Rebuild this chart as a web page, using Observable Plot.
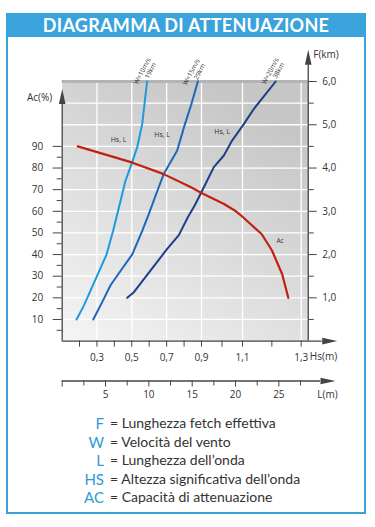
<!DOCTYPE html>
<html><head><meta charset="utf-8">
<script src="https://cdn.jsdelivr.net/npm/d3@7"></script>
<script src="https://cdn.jsdelivr.net/npm/@observablehq/plot@0.6"></script>
<style>
body{margin:0;background:#fff;width:375px;height:527px;position:relative;overflow:hidden;font-family:"Open Sans",sans-serif;}
#box{position:absolute;left:6px;top:13px;width:356px;height:497px;border:2px solid #3aa0da;}
#title{position:absolute;left:6px;top:13px;width:360px;height:24px;background:#3aa3db;color:#fff;font-family:Lato,sans-serif;font-weight:700;font-size:18px;text-align:center;line-height:25px;letter-spacing:0.3px;}
#main{position:absolute;left:0;top:40px;}
#laxis{position:absolute;left:0;top:372px;}
.row{position:absolute;left:0;width:375px;height:18.5px;line-height:18.5px;font-family:Lato,sans-serif;}
.k{position:absolute;right:271px;color:#2e9ad6;font-size:15px;}
.v{position:absolute;left:110px;color:#333;font-size:14px;}
</style></head>
<body>
<div id="box"></div>
<div id="title">DIAGRAMMA DI ATTENUAZIONE</div>
<div id="main"></div>
<div id="laxis"></div>
<div id="legend"></div>
<script>
// ---- data ----
const acHs  = [0.19, 0.35, 0.50, 0.68, 0.84, 0.90, 1.01, 1.06, 1.10, 1.165, 1.20, 1.235, 1.256];
const acPct = [90, 86.2, 82.6, 77.3, 71.1, 68.5, 63.4, 60.5, 57.5, 49.5, 42, 31, 20];

const w10Hs = [0.183, 0.225, 0.30, 0.355, 0.393, 0.43, 0.464, 0.502, 0.531, 0.56, 0.573, 0.588];
const w10F  = [0.5, 0.82, 1.5, 2.0, 2.55, 3.15, 3.71, 4.13, 4.48, 5.02, 5.48, 6.0];
const w15Hs = [0.279, 0.33, 0.378, 0.44, 0.502, 0.56, 0.598, 0.64, 0.684, 0.76, 0.80, 0.84, 0.879];
const w15F  = [0.5, 0.9, 1.29, 1.65, 2.0, 2.55, 2.94, 3.4, 3.87, 4.4, 4.95, 5.45, 6.0];
const w20Hs = [0.474, 0.512, 0.607, 0.703, 0.77, 0.82, 0.86, 0.898, 0.96, 1.009, 1.05, 1.105, 1.139, 1.213];
const w20F  = [1.0, 1.13, 1.63, 2.13, 2.45, 2.85, 3.13, 3.43, 4.02, 4.29, 4.64, 5.02, 5.37, 6.0];

const wNames  = ["W=10m/s", "W=15m/s", "W=20m/s"];
const wFetch  = ["19km", "29km", "38km"];
const wColors = ["#1d9ade", "#1b68b9", "#1c3f88"];

const acTicks   = [10, 20, 30, 40, 50, 60, 70, 80, 90];
const acMinor   = [5, 15, 25, 35, 45, 55, 65, 75, 85];
const fTicks    = [1, 2, 3, 4, 5, 6];
const fMinor    = [0.5, 1.5, 2.5, 3.5, 4.5, 5.5];
const hsTicks   = [0.2, 0.3, 0.4, 0.5, 0.6, 0.7, 0.8, 0.9, 1.0, 1.1, 1.2, 1.3];
const hsLabels  = [0.3, 0.5, 0.7, 0.9, 1.1, 1.3];
const lTicks    = [0, 5, 10, 15, 20, 25];
const lMinor    = [2.5, 7.5, 12.5, 17.5, 22.5, 27.5];
const gridAc    = [10, 20, 30, 40, 50, 60, 70, 80, 90, 100, 110];

const legendKeys  = ["F", "W", "L", "HS", "AC"];
const legendTexts = ["Lunghezza fetch effettiva", "Velocità del vento", "Lunghezza dell’onda", "Altezza significativa dell’onda", "Capacità di attenuazione"];

// ---- helpers ----
const comma = d => d.toFixed(1).replace(".", ",");
const zip = (xs, ys, key) => xs.map((x, i) => ({hs: x, v: ys[i], key}));
const arrowUp = {draw(c){ c.moveTo(-3.3,0); c.lineTo(0,-15); c.lineTo(3.3,0); c.closePath(); }};
const arrowRight = {draw(c){ c.moveTo(0,-3.3); c.lineTo(15,0); c.lineTo(0,3.3); c.closePath(); }};
const axisColor = "#444";
const hsLeft = 0.1, hsRight = 1.324;

const acData = zip(acHs, acPct, "Ac");
const wData = [zip(w10Hs, w10F, 0), zip(w15Hs, w15F, 1), zip(w20Hs, w20F, 2)];

const main = Plot.plot({
  width: 375, height: 332,
  marginLeft: 61.7, marginRight: 67.3, marginTop: 41, marginBottom: 31.4,
  style: {fontFamily: "Open Sans, sans-serif", fontSize: "10px", color: "#333", background: "transparent", overflow: "visible"},
  x: {type: "linear", domain: [0.1, 0.2, 0.9, 1.1, 1.3, 1.4], range: [61.7, 79, 201, 242, 300.7, 330.05]},
  y: {domain: [0, 120], range: [300.6, 41]},
  marks: [
    Plot.frame({fill: "url(#bgGrad)", stroke: "none"}),
    Plot.ruleY(gridAc, {stroke: "#fff", strokeWidth: 1.3}),
    Plot.ruleX(hsLabels, {stroke: "#fff", strokeWidth: 1.3}),
    Plot.ruleY([120], {stroke: "#b4b4b4", strokeWidth: 3}),
    // axis lines + arrowheads
    Plot.ruleX([hsLeft], {y1: 0, y2: 109.6, stroke: axisColor, strokeWidth: 1.3}),
    Plot.ruleX([hsRight], {y1: 0, y2: 127.8, stroke: axisColor, strokeWidth: 1.3}),
    Plot.ruleY([0], {x1: hsLeft, x2: 1.3716, stroke: axisColor, strokeWidth: 1.3}),
    Plot.dot([0], {x: hsLeft, y: 109.6, symbol: arrowUp, fill: axisColor, stroke: "none"}),
    Plot.dot([0], {x: hsRight, y: 127.8, symbol: arrowUp, fill: axisColor, stroke: "none"}),
    Plot.dot([0], {x: 1.3716, y: 0, symbol: arrowRight, fill: axisColor, stroke: "none"}),
    // axes
    Plot.axisY(acTicks, {anchor: "left", tickSize: 9, tickPadding: 10, fontSize: 10, stroke: axisColor, label: null}),
    Plot.axisY(acMinor, {anchor: "left", tickSize: 5, tickFormat: () => "", stroke: axisColor, label: null}),
    Plot.axisY(fTicks.map(f => f * 20), {anchor: "right", tickSize: 8, tickPadding: 6, fontSize: 10, tickFormat: d => comma(d / 20), stroke: axisColor, label: null}),
    Plot.axisY(fMinor.map(f => f * 20), {anchor: "right", tickSize: 5, tickFormat: () => "", stroke: axisColor, label: null}),
    Plot.axisX(hsTicks, {anchor: "bottom", tickSize: 6, tickPadding: 7, fontSize: 10, stroke: axisColor, label: null,
      tickFormat: d => hsLabels.some(h => Math.abs(h - d) < 1e-9) ? comma(d) : ""}),
    Plot.text(["Ac(%)"], {x: hsLeft, y: 112.5, dx: -10, textAnchor: "end", fontSize: 10, fill: "#333"}),
    Plot.text(["F(km)"], {x: hsRight, y: 132.3, dx: 5, textAnchor: "start", fontSize: 10, fill: "#333"}),
    Plot.text(["Hs(m)"], {x: 1.376, y: -7.1, textAnchor: "middle", fontSize: 10, fill: "#333"}),
    // curves
    ...wData.map((d, i) => Plot.line(d, {x: "hs", y: p => p.v * 20, stroke: wColors[i], strokeWidth: 2})),
    Plot.line(acData, {x: "hs", y: "v", stroke: "#c0220f", strokeWidth: 2.2}),
    // annotations
    Plot.text(["Hs, L", "Hs, L", "Hs, L"], {x: [0.424, 0.674, 1.001], y: [93, 95.3, 96.9], fontSize: 7, fill: "#333"}),
    Plot.text(["Ac"], {x: 1.228, y: 46.5, fontSize: 6.5, fill: "#333"}),
    Plot.text(wNames, {x: [0.533, 0.814, 1.178], y: [118.5, 118, 118.5], rotate: -62, textAnchor: "start", lineAnchor: "bottom", fontSize: 6.5, fill: "#333"}),
    Plot.text(wFetch, {x: [0.596, 0.877, 1.216], y: [121.1, 120.6, 121.1], rotate: -62, textAnchor: "start", lineAnchor: "bottom", fontSize: 6.5, fill: "#333"})
  ]
});
d3.select(main).insert("defs", ":first-child").html(
  '<linearGradient id="bgGrad" x1="0" y1="1" x2="0.6" y2="0">' +
  '<stop offset="0" stop-color="#f5f5f5"/><stop offset="1" stop-color="#c6c6c6"/></linearGradient>');
document.getElementById("main").appendChild(main);

const lAxis = Plot.plot({
  width: 375, height: 34,
  marginLeft: 61.7, marginRight: 53.3, marginTop: 0, marginBottom: 25.5,
  style: {fontFamily: "Open Sans, sans-serif", fontSize: "10px", color: "#333", background: "transparent", overflow: "visible"},
  x: {domain: [0, 30], range: [61.7, 61.7 + 8.667 * 30]},
  y: {domain: [0, 1], range: [8.5, 0], axis: null},
  marks: [
    Plot.ruleY([0], {x1: 0, x2: 29.8, stroke: axisColor, strokeWidth: 1.3}),
    Plot.dot([0], {x: 29.8, y: 0, symbol: arrowRight, fill: axisColor, stroke: "none"}),
    Plot.axisX(lTicks, {anchor: "bottom", tickSize: 6, tickPadding: 4, fontSize: 10, stroke: axisColor, label: null,
      tickFormat: d => d === 0 ? "" : String(d)}),
    Plot.axisX(lMinor, {anchor: "bottom", tickSize: 5, tickFormat: () => "", stroke: axisColor, label: null}),
    Plot.text(["L(m)"], {x: 30.6, y: 0, dy: 14, textAnchor: "middle", fontSize: 10, fill: "#333"})
  ]
});
document.getElementById("laxis").appendChild(lAxis);

const legend = document.getElementById("legend");
legendKeys.forEach((k, i) => {
  const row = document.createElement("div");
  row.className = "row";
  row.style.top = (414 + i * 18.5) + "px";
  row.innerHTML = `<span class="k">${k}</span><span class="v">= ${legendTexts[i]}</span>`;
  legend.appendChild(row);
});
</script>
</body></html>
